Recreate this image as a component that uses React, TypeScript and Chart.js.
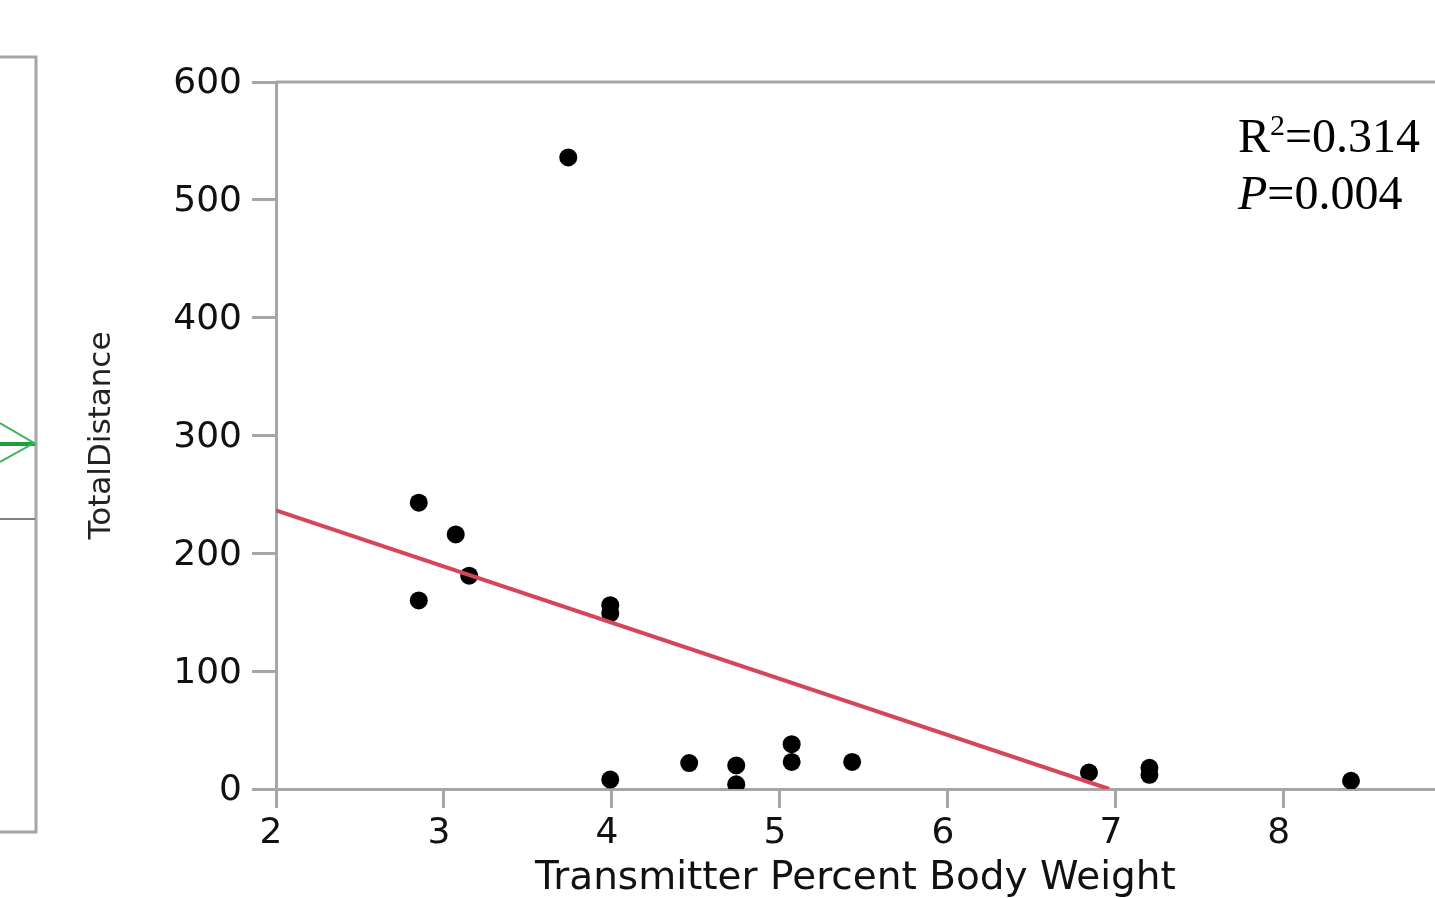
import React, { useEffect, useRef } from "react";
import { Chart, registerables } from "chart.js";

Chart.register(...registerables);

// ---- data ----
const xValues = [3.74, 2.85, 3.07, 3.15, 2.85, 3.99, 3.99, 3.99, 4.46, 4.74, 4.74, 5.07, 5.07, 5.43, 6.84, 7.2, 7.2, 8.4];
const yValues = [536, 243, 216, 181, 160, 156, 149, 8, 22, 20, 4, 38, 23, 23, 14, 18, 12, 7];
const fitX = [2, 6.96];
const fitY = [236.5, 0];
const xTicks = [2, 3, 4, 5, 6, 7, 8];
const yTicks = [0, 100, 200, 300, 400, 500, 600];
const xTitle = "Transmitter Percent Body Weight";
const yTitle = "TotalDistance";
const statR2 = "0.314";
const statP = "0.004";

const GRAY = "#a6a6a6";

const decorPlugin = {
  id: "decor",
  beforeDraw(chart: any) {
    const ctx = chart.ctx;
    ctx.save();
    ctx.fillStyle = "#ffffff";
    ctx.fillRect(0, 0, chart.width, chart.height);
    // left neighbouring panel frame
    ctx.strokeStyle = GRAY;
    ctx.lineWidth = 3;
    ctx.beginPath();
    ctx.moveTo(0, 57);
    ctx.lineTo(36, 57);
    ctx.lineTo(36, 832);
    ctx.lineTo(0, 832);
    ctx.stroke();
    ctx.strokeStyle = "#808080";
    ctx.lineWidth = 2;
    ctx.beginPath();
    ctx.moveTo(0, 519);
    ctx.lineTo(35, 519);
    ctx.stroke();
    // green arrow marker
    ctx.strokeStyle = "#1e9e3c";
    ctx.lineWidth = 4;
    ctx.beginPath();
    ctx.moveTo(0, 444);
    ctx.lineTo(35, 444);
    ctx.stroke();
    ctx.lineWidth = 2;
    ctx.strokeStyle = "#3db35a";
    ctx.beginPath();
    ctx.moveTo(0, 423);
    ctx.lineTo(34, 443);
    ctx.lineTo(0, 462);
    ctx.stroke();
    ctx.restore();
  },
  afterDraw(chart: any) {
    const ctx = chart.ctx;
    const a = chart.chartArea;
    ctx.save();
    // top frame line
    ctx.strokeStyle = GRAY;
    ctx.lineWidth = 3;
    ctx.beginPath();
    ctx.moveTo(a.left, a.top);
    ctx.lineTo(chart.width, a.top);
    ctx.stroke();
    // statistics
    ctx.fillStyle = "#000";
    ctx.textBaseline = "alphabetic";
    ctx.textAlign = "left";
    const x0 = 1238;
    ctx.font = '48px "Liberation Serif"';
    ctx.fillText("R", x0, 152);
    let x = x0 + ctx.measureText("R").width;
    ctx.font = '30px "Liberation Serif"';
    ctx.fillText("2", x, 135);
    x += ctx.measureText("2").width;
    ctx.font = '48px "Liberation Serif"';
    ctx.fillText("=" + statR2, x, 152);
    ctx.font = 'italic 48px "Liberation Serif"';
    ctx.fillText("P", x0, 209);
    const xp = x0 + ctx.measureText("P").width;
    ctx.font = '48px "Liberation Serif"';
    ctx.fillText("=" + statP, xp, 209);
    ctx.restore();
  },
};

export default function App() {
  const ref = useRef<HTMLCanvasElement | null>(null);

  useEffect(() => {
    if (!ref.current) return;
    const chart = new Chart(ref.current, {
      type: "scatter",
      data: {
        datasets: [
          {
            type: "line",
            data: fitX.map((v, i) => ({ x: v, y: fitY[i] })),
            borderColor: "#d5455b",
            borderWidth: 4,
            pointRadius: 0,
            fill: false,
            order: 0,
          } as any,
          {
            type: "scatter",
            data: xValues.map((v, i) => ({ x: v, y: yValues[i] })),
            backgroundColor: "#000",
            borderWidth: 0,
            pointRadius: 9,
            order: 1,
          },
        ],
      },
      options: {
        responsive: false,
        animation: false,
        events: [],
        layout: { autoPadding: false, padding: { top: 82, right: 0, bottom: 0, left: 0 } },
        plugins: { legend: { display: false }, tooltip: { enabled: false } },
        scales: {
          x: {
            type: "linear",
            min: 2,
            max: 8.9,
            z: 1,
            afterBuildTicks: (s: any) => {
              s.ticks = xTicks.map((v) => ({ value: v }));
            },
            afterFit: (s: any) => {
              s.height = 109;
              s.paddingRight = 0;
              s.paddingLeft = 0;
            },
            border: { display: true, color: GRAY, width: 3 },
            grid: { drawOnChartArea: false, drawTicks: true, tickLength: 19, color: GRAY, lineWidth: 3 },
            ticks: {
              font: { family: "DejaVu Sans", size: 36 },
              color: "#111",
              padding: 4,
              labelOffset: -5,
              maxRotation: 0,
              autoSkip: false,
            },
            title: {
              display: true,
              text: xTitle,
              color: "#111",
              font: { family: "DejaVu Sans", size: 39, lineHeight: 1.0 },
              padding: { top: 0, bottom: 0 },
            },
          },
          y: {
            type: "linear",
            min: 0,
            max: 600,
            z: 1,
            afterBuildTicks: (s: any) => {
              s.ticks = yTicks.map((v) => ({ value: v }));
            },
            afterFit: (s: any) => {
              s.width = 276;
              s.paddingTop = 0;
              s.paddingBottom = 0;
            },
            border: { display: true, color: GRAY, width: 3 },
            grid: { drawOnChartArea: false, drawTicks: true, tickLength: 24, color: GRAY, lineWidth: 3 },
            ticks: {
              font: { family: "DejaVu Sans", size: 36 },
              color: "#111",
              padding: 10,
              labelOffset: 2,
              autoSkip: false,
            },
            title: {
              display: true,
              text: yTitle,
              color: "#222",
              font: { family: "DejaVu Sans", size: 31, lineHeight: 1.2 },
              padding: { top: 83, bottom: 0 },
            },
          },
        },
      },
      plugins: [decorPlugin],
    });
    return () => chart.destroy();
  }, []);

  return (
    <div style={{ position: "fixed", left: 0, top: 0, width: 1435, height: 898, background: "#fff" }}>
      <canvas ref={ref} width={1435} height={898} style={{ display: "block", width: 1435, height: 898 }} />
    </div>
  );
}
